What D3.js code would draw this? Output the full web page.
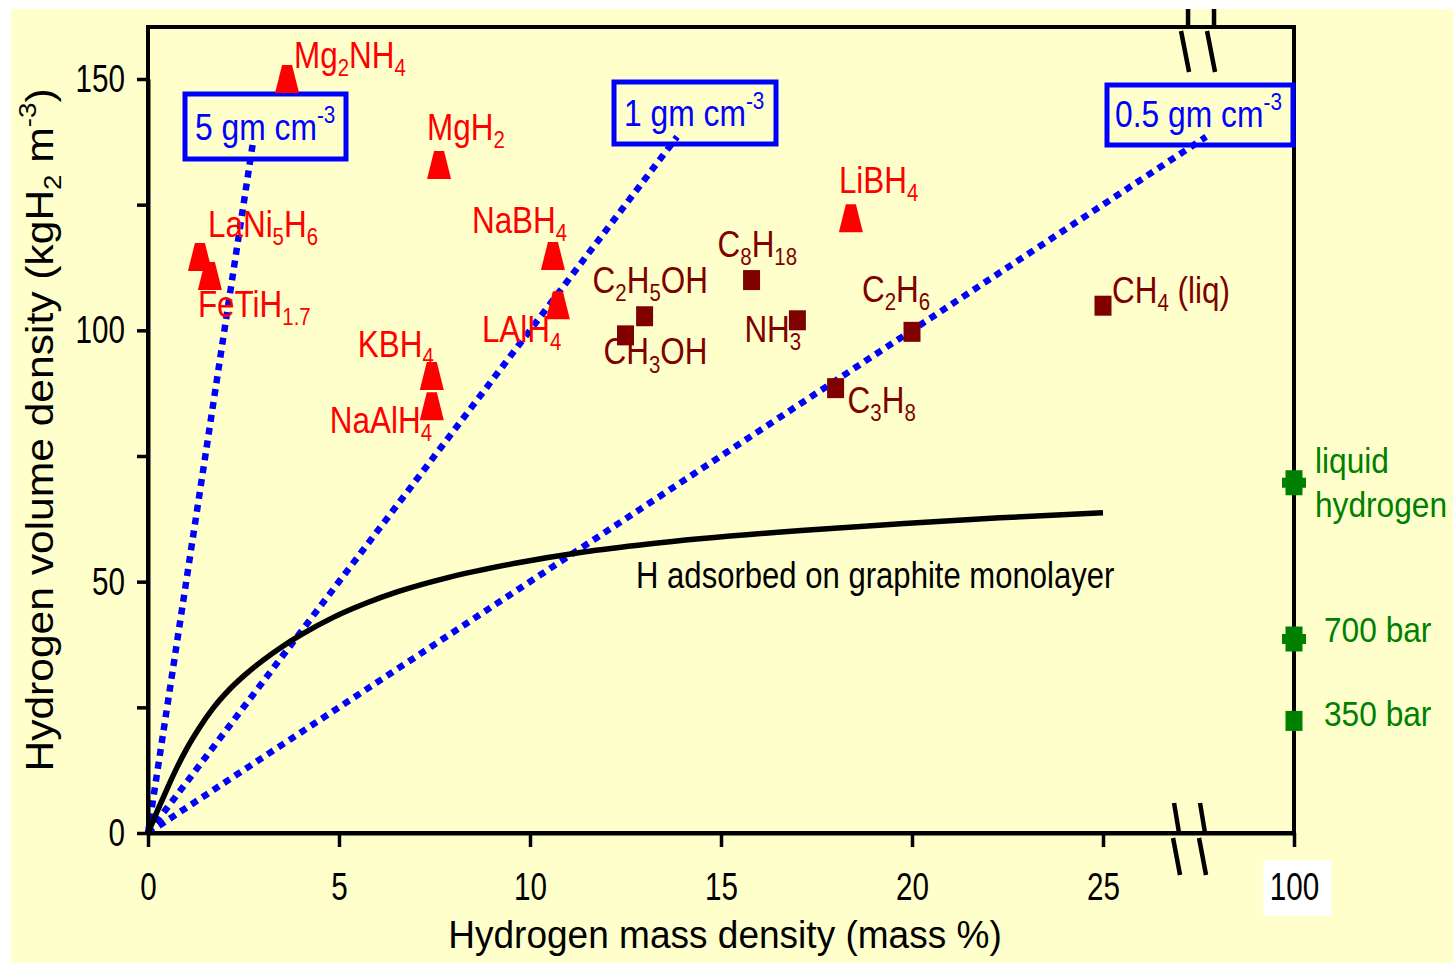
<!DOCTYPE html>
<html>
  <head>
    <title>Hydrogen storage density</title>
    <script src="https://d3js.org/d3.v7.min.js"></script>
    <style>
      html,
      body {
        margin: 0;
        padding: 0;
        background: #fff;
      }
      svg {
        display: block;
        font-family: "Liberation Sans", Arial, sans-serif;
      }
    </style>
  </head>
  <body>
    <div id="chart"></div>
    <script>
      // hydrides (red triangles)
      const hydrides = [
        "Mg_{2}NH_{4}",
        "MgH_{2}",
        "LaNi_{5}H_{6}",
        "FeTiH_{1.7}",
        "NaBH_{4}",
        "LAlH_{4}",
        "KBH_{4}",
        "NaAlH_{4}",
        "LiBH_{4}",
      ];
      const hydrideMass = [3.64, 7.62, 1.36, 1.62, 10.6, 10.73, 7.43, 7.43, 18.4];
      const hydrideVolume = [150, 132.9, 114.6, 110.8, 114.8, 105, 90.9, 84.9, 122.3];

      // liquid fuels (dark red squares)
      const fuels = [
        "C_{2}H_{5}OH",
        "CH_{3}OH",
        "C_{8}H_{18}",
        "NH_{3}",
        "C_{2}H_{6}",
        "C_{3}H_{8}",
        "CH_{4} (liq)",
      ];
      const fuelMass = [13.0, 12.5, 15.8, 17.0, 20.0, 18.0, 25.0];
      const fuelVolume = [102.8, 99.0, 110.0, 102.0, 99.7, 88.5, 104.9];

      // pure hydrogen tanks (green, at 100 mass %)
      const tanks = ["liquid|hydrogen", "700 bar", "350 bar"];
      const tankMass = [100, 100, 100];
      const tankVolume = [69.7, 38.6, 22.3];

      // constant density lines
      const densityLabels = ["5 gm cm^{-3}", "1 gm cm^{-3}", "0.5 gm cm^{-3}"];
      const densities = [5, 1, 0.5];
      const densityEndMass = [2.75, 13.85, 27.7];

      // H adsorbed on graphite monolayer
      const curveMass = [0, 0.25, 0.5, 0.75, 1.0, 1.35, 1.7, 2.1, 2.5, 3.0, 3.5, 4.0, 4.85, 5.7, 6.5, 7.9, 9.65, 11.4, 13.1, 17.1, 19.7, 22.3, 25.0];
      const curveVolume = [0, 4.5, 8.8, 12.9, 16.6, 21.0, 24.8, 28.3, 31.2, 34.3, 37.0, 39.4, 42.9, 45.7, 47.9, 50.9, 53.7, 55.9, 57.5, 60.2, 61.5, 62.7, 63.7];

      const xTicks = [0, 5, 10, 15, 20, 25, 100];
      const yTicks = [0, 25, 50, 75, 100, 125, 150];
      const breakMass = [26.86, 27.54];

      const xTitle = "Hydrogen mass density (mass %)";
      const yTitle = "Hydrogen volume density (kgH_{2} m^{-3})";
      const curveTitle = "H adsorbed on graphite monolayer";

      // label offsets from the marker, in px
      const labelOffset = {
        "Mg_{2}NH_{4}": [7, -11],
        "MgH_{2}": [-12, -25],
        "LaNi_{5}H_{6}": [8, -20],
        "FeTiH_{1.7}": [-12, 41],
        "NaBH_{4}": [-81, -23],
        "LAlH_{4}": [-76, 37],
        "KBH_{4}": [-74, -19],
        "NaAlH_{4}": [-102, 27],
        "LiBH_{4}": [-12, -25],
        "C_{2}H_{5}OH": [-52, -23],
        "CH_{3}OH": [-22, 29],
        "C_{8}H_{18}": [-34, -23],
        "NH_{3}": [-53, 22],
        "C_{2}H_{6}": [-50, -30],
        "C_{3}H_{8}": [12, 25],
        "CH_{4} (liq)": [9, -3],
      };
      const tankOffset = [[21, -9.5], [30, 3], [30, 5]];
      const tankMarker = ["blob", "blob", "square"];
      // box for each density label: x, y, w, h, text x, text y
      const boxLayout = [
        [185, 94, 161, 65, 195, 140],
        [614, 82, 162, 62, 624, 126],
        [1107, 85, 186, 60, 1115, 127],
      ];

      const width = 1453;
      const height = 963;
      const plotLeft = 148,
        plotRight = 1294,
        plotTop = 27,
        plotBottom = 833;
      const unit = (plotRight - plotLeft) / 30;

      const yellow = "#ffffcc";
      const red = "#ff0000";
      const darkRed = "#800000";
      const blue = "#0000ff";
      const green = "#008000";

      // broken x axis: 28 and beyond squeezed up to 100
      const x = d3
        .scaleLinear()
        .domain([0, 28, 100])
        .range([plotLeft, plotLeft + 28 * unit, plotRight]);
      const y = d3.scaleLinear().domain([0, 150]).range([plotBottom, 79]);

      const svg = d3
        .select("#chart")
        .append("svg")
        .attr("width", width)
        .attr("height", height);

      svg
        .append("rect")
        .attr("x", 11)
        .attr("y", 9)
        .attr("width", width - 11)
        .attr("height", height - 9)
        .attr("fill", yellow);

      //text with _{sub} and ^{sup} parts
      function richText(parent, markup, o) {
        const t = parent
          .append("text")
          .attr("transform", o.transform)
          .attr("font-size", o.size)
          .attr("fill", o.fill)
          .attr("text-anchor", o.anchor || "start");
        const re = /([_^])\{([^}]*)\}|([^_^]+)/g;
        let shift = 0;
        let m;
        while ((m = re.exec(markup))) {
          let target = 0;
          let fs = null;
          let txt = m[3];
          if (m[1] === "_") {
            target = o.size * 0.22;
            fs = o.size * 0.65;
            txt = m[2];
          } else if (m[1] === "^") {
            target = -o.size * 0.45;
            fs = o.size * 0.65;
            txt = m[2];
          }
          const ts = t
            .append("tspan")
            .attr("dy", target - shift)
            .text(txt);
          if (fs) ts.attr("font-size", fs);
          shift = target;
        }
        return t;
      }

      //frame
      svg
        .append("rect")
        .attr("x", plotLeft)
        .attr("y", plotTop)
        .attr("width", plotRight - plotLeft)
        .attr("height", plotBottom - plotTop)
        .attr("fill", "none")
        .attr("stroke", "#000")
        .attr("stroke-width", 4);

      // density lines
      const line = d3
        .line()
        .x((d) => x(d[0]))
        .y((d) => y(d[1]));

      svg
        .append("g")
        .selectAll("path")
        .data(densities)
        .enter()
        .append("path")
        .attr("d", (d, i) =>
          line([
            [0, 0],
            [densityEndMass[i], densityEndMass[i] * d * 10],
          ])
        )
        .attr("fill", "none")
        .attr("stroke", blue)
        .attr("stroke-width", 6.5)
        .attr("stroke-dasharray", "7 6");

      const boxes = svg
        .append("g")
        .selectAll("g")
        .data(densityLabels)
        .enter()
        .append("g");
      boxes
        .append("rect")
        .attr("x", (d, i) => boxLayout[i][0])
        .attr("y", (d, i) => boxLayout[i][1])
        .attr("width", (d, i) => boxLayout[i][2])
        .attr("height", (d, i) => boxLayout[i][3])
        .attr("fill", "none")
        .attr("stroke", blue)
        .attr("stroke-width", 5);
      boxes.each(function (d, i) {
        richText(d3.select(this), d, {
          transform: `translate(${boxLayout[i][4]},${boxLayout[i][5]}) scale(0.86,1)`,
          size: 37,
          fill: blue,
        });
      });

      // graphite curve
      const curve = d3
        .line()
        .x((d) => x(d))
        .y((d, i) => y(curveVolume[i]))
        .curve(d3.curveMonotoneX);

      svg
        .append("path")
        .attr("d", curve(curveMass))
        .attr("fill", "none")
        .attr("stroke", "#000")
        .attr("stroke-width", 5.5);

      richText(svg, curveTitle, {
        transform: "translate(636,588) scale(0.84,1)",
        size: 37,
        fill: "#000",
      });

      //axes
      const xAxis = svg
        .append("g")
        .attr("transform", `translate(0,${plotBottom})`)
        .call(
          d3
            .axisBottom(x)
            .tickValues(xTicks)
            .tickFormat(d3.format("d"))
            .tickSize(14)
            .tickSizeOuter(0)
            .tickPadding(25)
        );
      const yAxis = svg
        .append("g")
        .attr("transform", `translate(${plotLeft},0)`)
        .call(
          d3
            .axisLeft(y)
            .tickValues(yTicks)
            .tickFormat((d) => (d % 50 === 0 ? d : ""))
            .tickSize(11)
            .tickSizeOuter(0)
        );

      [xAxis, yAxis].forEach((a) => {
        a.attr("color", "#000").attr("font-family", null).attr("font-size", 39);
        a.select(".domain").attr("stroke-width", 4);
        a.selectAll(".tick line").attr("stroke-width", 3.5);
      });
      xAxis.selectAll(".tick text").attr("transform", "scale(0.76,1)");
      yAxis
        .selectAll(".tick text")
        .attr("x", 0)
        .attr("transform", "translate(-23,0) scale(0.76,1)");

      // white patch behind the 100 label
      xAxis
        .selectAll(".tick")
        .filter((d) => d === 100)
        .insert("rect", "text")
        .attr("x", -31)
        .attr("y", 27)
        .attr("width", 68)
        .attr("height", 56)
        .attr("fill", "#fff");

      //break marks
      const breaks = svg
        .append("g")
        .attr("stroke", "#000")
        .attr("stroke-width", 4.5)
        .attr("fill", "none");
      breakMass.forEach((b) => {
        const bx = x(b);
        breaks
          .append("path")
          .attr(
            "d",
            `M${bx},${plotBottom - 30}L${bx + 5},${plotBottom}M${bx - 1},${plotBottom + 5}L${bx + 6},${plotBottom + 42}`
          );
        breaks
          .append("path")
          .attr(
            "d",
            `M${bx + 14},${plotTop - 18}L${bx + 14},${plotTop}M${bx + 7},${plotTop + 4}L${bx + 15},${plotTop + 45}`
          );
      });

      // markers
      const tri = "M-5,-14L5,-14L12,14L-12,14Z";
      const blob = "M-8.5,-12.5H8.5V-5H12V5H8.5V12.5H-8.5V5H-12V-5H-8.5Z";
      const sq = "M-8.5,-10H8.5V10H-8.5Z";

      function addGroup(names, mass, volume, path, color) {
        const g = svg
          .append("g")
          .selectAll("g")
          .data(names)
          .enter()
          .append("g")
          .attr("transform", (d, i) => `translate(${x(mass[i])},${y(volume[i])})`);
        g.append("path").attr("d", path).attr("fill", color);
        g.each(function (d) {
          const off = labelOffset[d];
          richText(d3.select(this), d, {
            transform: `translate(${off[0]},${off[1]}) scale(0.85,1)`,
            size: 37,
            fill: color,
          });
        });
      }

      addGroup(hydrides, hydrideMass, hydrideVolume, tri, red);
      addGroup(fuels, fuelMass, fuelVolume, sq, darkRed);

      const tankG = svg
        .append("g")
        .selectAll("g")
        .data(tanks)
        .enter()
        .append("g")
        .attr("transform", (d, i) => `translate(${x(tankMass[i])},${y(tankVolume[i])})`);
      tankG
        .append("path")
        .attr("d", (d, i) => (tankMarker[i] === "blob" ? blob : sq))
        .attr("fill", green);
      tankG.each(function (d, i) {
        d3.select(this)
          .selectAll("text")
          .data(d.split("|"))
          .enter()
          .append("text")
          .attr(
            "transform",
            (s, j) => `translate(${tankOffset[i][0]},${tankOffset[i][1] + j * 44}) scale(0.88,1)`
          )
          .attr("font-size", 36)
          .attr("fill", green)
          .text((s) => s);
      });

      // axis titles
      richText(svg, xTitle, {
        transform: `translate(725,948) scale(0.95,1)`,
        size: 39,
        fill: "#000",
        anchor: "middle",
      });
      richText(svg, yTitle, {
        transform: `translate(53,430) rotate(-90) scale(1.12,1)`,
        size: 38,
        fill: "#000",
        anchor: "middle",
      });
    </script>
  </body>
</html>
